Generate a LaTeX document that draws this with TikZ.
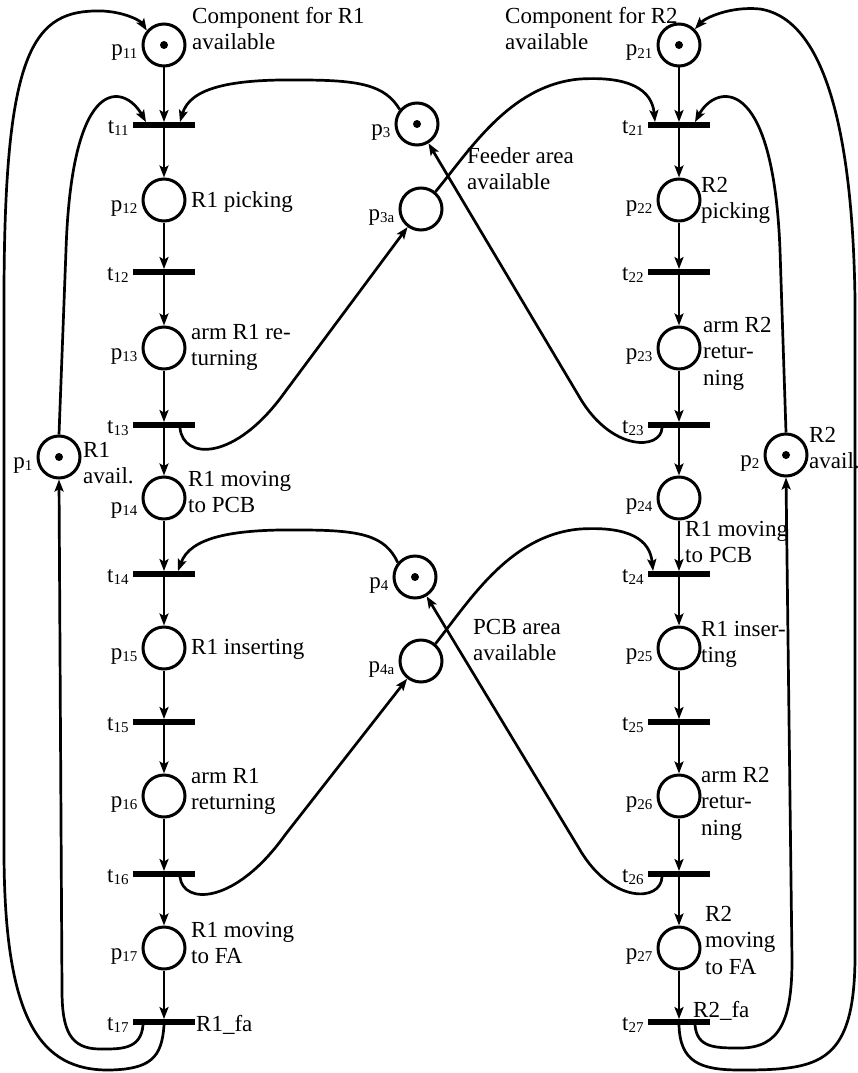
\documentclass[tikz,border=0pt]{standalone}
\usepackage{fontspec}
\setmainfont{Liberation Serif}
\usetikzlibrary{arrows.meta,calc}
\newcommand\sbs[1]{\raisebox{-0.12em}{\fontsize{15}{15}\selectfont #1}}
\begin{document}
\begin{tikzpicture}[x=1pt,y=-1pt,
  place/.style={circle,draw,line width=3pt,minimum size=42pt,inner sep=0pt},
  trans/.style={rectangle,fill=black,minimum width=62pt,minimum height=5.5pt,inner sep=0pt},
  arc/.style={line width=2.7pt,-{Stealth[length=12pt,width=9pt,inset=2.5pt]}},
  plab/.style={anchor=base east,inner sep=0pt,font=\fontsize{23}{26}\selectfont},
  txt/.style={anchor=north west,inner sep=0pt,align=left,font=\fontsize{23}{26.5}\selectfont}]
\useasboundingbox (0,0) rectangle (858,1073);
% places
\node[place] (p11) at (164,45) {};
\node[place] (p12) at (164,200) {};
\node[place] (p13) at (164,348) {};
\node[place] (p14) at (164,498) {};
\node[place] (p15) at (164,648) {};
\node[place] (p16) at (164,796) {};
\node[place] (p17) at (164,948) {};
\node[place] (p21) at (679,45) {};
\node[place] (p22) at (679,200) {};
\node[place] (p23) at (679,348) {};
\node[place] (p24) at (679,498) {};
\node[place] (p25) at (679,648) {};
\node[place] (p26) at (679,796) {};
\node[place] (p27) at (679,948) {};
\node[place] (p1) at (59,457) {};
\node[place] (p2) at (786,455) {};
\node[place] (p3) at (417,124) {};
\node[place] (p3a) at (421,209) {};
\node[place] (p4) at (415,577) {};
\node[place] (p4a) at (421,661) {};
% tokens
\foreach \p in {p11,p21,p1,p2,p3,p4} \fill (\p.center) circle[radius=4];
% transitions
\node[trans] (t11) at (164,125) {};
\node[trans] (t12) at (164,272) {};
\node[trans] (t13) at (164,425) {};
\node[trans] (t14) at (164,574) {};
\node[trans] (t15) at (164,722) {};
\node[trans] (t16) at (164,874) {};
\node[trans] (t17) at (164,1022) {};
\node[trans] (t21) at (679,125) {};
\node[trans] (t22) at (679,272) {};
\node[trans] (t23) at (679,425) {};
\node[trans] (t24) at (679,574) {};
\node[trans] (t25) at (679,722) {};
\node[trans] (t26) at (679,874) {};
\node[trans] (t27) at (679,1022) {};
% vertical arcs
\foreach \c in {1,2} {
  \foreach \i in {1,...,7} \draw[arc] (p\c\i) -- (t\c\i);
  \foreach \i/\j in {1/2,2/3,3/4,4/5,5/6,6/7} \draw[arc] (t\c\i) -- (p\c\j);
}
% resource arcs
\draw[arc] (p1.north) -- (66,250) .. controls (72,70) and (125,85) .. ($(t11.north)+(-18,0)$);
\draw[arc] (p2.north) -- (780,250) .. controls (773,70) and (715,85) .. ($(t21.north)+(16,0)$);
\draw[arc] ($(t17.south)+(-21,0)$) .. controls (141,1050) and (120,1049) .. (100,1049) .. controls (70,1049) and (62,1030) .. (62,990) -- (p1.south);
\draw[arc] (t17.south) .. controls (162,1058) and (150,1069) .. (110,1070) .. controls (40,1071) and (4,1020) .. (4,850) -- (4,300) .. controls (4,60) and (30,12) .. (95,11) .. controls (120,10) and (140,20) .. (p11.140);
\draw[arc] ($(t27.south)+(16,0)$) .. controls (697,1048) and (715,1048) .. (740,1048) .. controls (780,1048) and (792,1020) .. (792,960) -- (p2.south);
\draw[arc] (t27.south) .. controls (680,1062) and (700,1070) .. (740,1070) .. controls (820,1070) and (856,1065) .. (855,950) -- (855,300) .. controls (853,150) and (830,20) .. (760,9) .. controls (730,6) and (705,18) .. (p21.45);
% feeder area
\draw[arc] (p3.140) .. controls (385,85) and (360,80) .. (300,80) .. controls (230,79) and (190,88) .. ($(t11.north)+(16,0)$);
\draw[arc] (p3a.50) .. controls (470,150) and (510,85) .. (580,79) .. controls (630,76) and (652,90) .. ($(t21.north)+(-24,0)$);
\draw[arc] ($(t13.south)+(16,0)$) .. controls (183,460) and (235,462) .. (285,392) -- (p3a);
\draw[arc] ($(t23.south)+(-17,0)$) .. controls (661,450) and (612,452) .. (580,398) -- (p3);
% PCB area
\draw[arc] (p4.140) .. controls (385,535) and (360,530) .. (300,530) .. controls (230,529) and (190,538) .. ($(t14.north)+(14,0)$);
\draw[arc] (p4a.50) .. controls (470,600) and (510,535) .. (580,529) .. controls (630,526) and (650,540) .. ($(t24.north)+(-26,0)$);
\draw[arc] ($(t16.south)+(16,0)$) .. controls (183,905) and (235,905) .. (285,835) -- (p4a);
\draw[arc] ($(t26.south)+(-17,0)$) .. controls (661,902) and (612,904) .. (580,850) -- (p4);
% place labels
\foreach \p/\s in {p11/11,p12/12,p13/13,p15/15,p16/16,p17/17,p21/21,p22/22,p23/23,p24/24,p25/25,p26/26,p27/27,p1/1,p2/2,p3/3,p3a/3a,p4/4,p4a/4a}
  \node[plab] (l\p) at ($(\p.west)+(-4,11)$) {p\sbs{\s}};
\node[plab] (lp14) at ($(p14.west)+(-4,15)$) {p\sbs{14}};
% transition labels
\foreach \t/\s in {t11/11,t12/12,t13/13,t14/14,t15/15,t16/16,t17/17,t21/21,t22/22,t23/23,t24/24,t25/25,t26/26,t27/27}
  \node[plab] (l\t) at ($(\t.west)+(-4,8)$) {t\sbs{\s}};
% texts
\node[txt] (cR1) at (192,7) {Component for R1\\available};
\node[txt] (cR2) at (505,7) {Component for R2\\available};
\node[txt] (x12) at (191,191) {R1 picking};
\node[txt] (x13) at (191,324) {arm R1 re-\\turning};
\node[txt] (x14) at (188,471) {R1 moving\\to PCB};
\node[txt] (x1) at (83,442) {R1\\avail.};
\node[txt] (x15) at (191,639) {R1 inserting};
\node[txt] (x16) at (191,768) {arm R1\\returning};
\node[txt] (x17) at (191,922) {R1 moving\\to FA};
\node[txt] (x1fa) at (196,1015) {R1\_fa};
\node[txt] (xfeed) at (467,147) {Feeder area\\available};
\node[txt] (xpcb) at (473,619) {PCB area\\available};
\node[txt] (x22) at (701,177) {R2\\picking};
\node[txt] (x23) at (703,317) {arm R2\\retur-\\ning};
\node[txt] (x24) at (685,521) {R1 moving\\to PCB};
\node[txt] (x2) at (809,427) {R2\\avail.};
\node[txt] (x25) at (701,621) {R1 inser-\\ting};
\node[txt] (x26) at (701,767) {arm R2\\retur-\\ning};
\node[txt] (x27) at (705,906) {R2\\moving\\to FA};
\node[txt] (x2fa) at (693,1001) {R2\_fa};
\end{tikzpicture}
\end{document}
